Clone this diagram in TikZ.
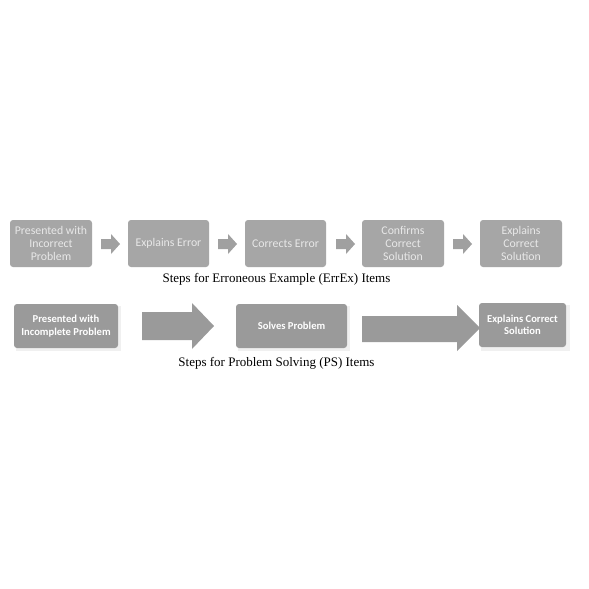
\documentclass[tikz,border=0pt]{standalone}
\usepackage{fontspec}
\setmainfont{Liberation Serif}
\newfontfamily\boxfont{Carlito}
\definecolor{boxgray}{HTML}{A6A6A6}
\definecolor{boxgraydark}{HTML}{9A9A9A}
\definecolor{arrowgray}{HTML}{A0A0A0}
\definecolor{txtlight}{HTML}{E8E8E8}
\begin{document}
\begin{tikzpicture}[x=1pt,y=-1pt,
  topbox/.style={fill=boxgray, rounded corners=3pt, draw=none},
  botbox/.style={fill=boxgraydark, rounded corners=3pt, draw=none},
  toptext/.style={font=\boxfont\fontsize{11.8}{13}\selectfont, text=txtlight, align=center},
  bottext/.style={font=\boxfont\bfseries\fontsize{10.6}{12.5}\selectfont, text=white, align=center},
  caption/.style={font=\fontsize{13}{14}\selectfont, text=black},
  smallarrow/.style={fill=arrowgray, draw=none},
  bigarrow/.style={fill=boxgraydark, draw=none}
]
\useasboundingbox (0,0) rectangle (589,589);
\fill[white] (0,0) rectangle (589,589);
% top row boxes
\path[topbox] (10,220) rectangle (92,267);
\node[toptext] (t1) at (51,243.5) {Presented with\\Incorrect\\Problem};
\path[topbox] (128,220) rectangle (209,267);
\node[toptext] (t2) at (168.5,243.5) {Explains Error};
\path[topbox] (245,220) rectangle (326,267);
\node[toptext] (t3) at (285.5,243.5) {Corrects Error};
\path[topbox] (362,220) rectangle (444,267);
\node[toptext] (t4) at (403,243.5) {Confirms\\Correct\\Solution};
\path[topbox] (480,220) rectangle (562,267);
\node[toptext] (t5) at (521,243.5) {Explains\\Correct\\Solution};
% small arrows
\foreach \x in {101,218,336,453}{
  \path[smallarrow] (\x,239) -- (\x+10,239) -- (\x+10,234) -- (\x+19,244) -- (\x+10,254) -- (\x+10,249) -- (\x,249) -- cycle;
}
\node[caption] (c1) at (276.5,279) {Steps for Erroneous Example (ErrEx) Items};
% bottom row
\path[fill=black!6] (16,306) rectangle (121,351);
\path[botbox] (14,304) rectangle (118,348);
\node[bottext] (b1) at (66,326) {Presented with\\Incomplete Problem};
\path[fill=black!6] (238,306) rectangle (350,351);
\path[botbox] (236,304) rectangle (347,348);
\node[bottext] (b2) at (291.5,326) {Solves Problem};
\path[fill=black!6] (481,305) rectangle (570,351);
\path[botbox] (479,303) rectangle (566,347);
\node[bottext] (b3) at (522.5,325) {Explains Correct\\Solution};
\path[bigarrow] (142,312) -- (192,312) -- (192,303) -- (214,326) -- (192,349) -- (192,340) -- (142,340) -- cycle;
\path[bigarrow] (362,316) -- (457,316) -- (457,305) -- (480,328) -- (457,351) -- (457,342) -- (362,342) -- cycle;
\node[caption] (c2) at (276.5,363) {Steps for Problem Solving (PS) Items};
\end{tikzpicture}
\end{document}
